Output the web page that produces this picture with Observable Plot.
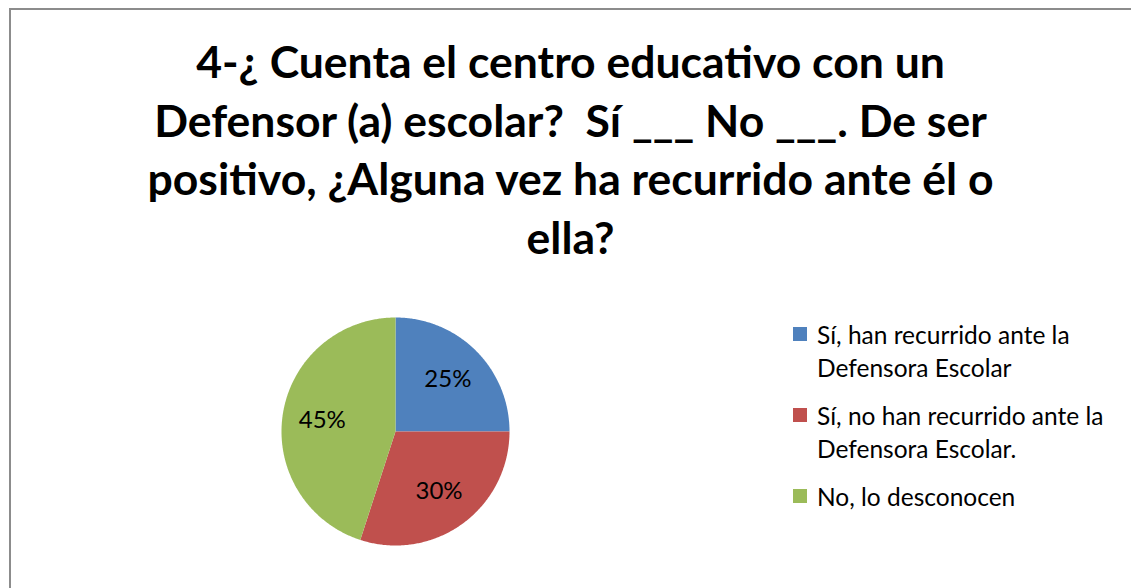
<!DOCTYPE html>
<html>
<head>
<meta charset="utf-8">
<script src="https://cdn.jsdelivr.net/npm/d3@7"></script>
<script src="https://cdn.jsdelivr.net/npm/@observablehq/plot@0.6"></script>
<style>
  html, body { margin: 0; padding: 0; background: #fff; }
  #frame { position: relative; width: 1131px; height: 588px; overflow: hidden; background: #fff; }
  #border { position: absolute; left: 9px; top: 8px; width: 1140px; height: 600px; border-left: 2px solid #8c8c8c; border-top: 2px solid #8c8c8c; box-sizing: border-box; }
  #title { position: absolute; left: 0; top: 32px; width: 1141px; text-align: center; font-family: Lato, "Open Sans", sans-serif; font-weight: bold; font-size: 44.5px; line-height: 58.5px; color: #000; white-space: pre; }
  #pie { position: absolute; left: 265px; top: 301px; }
  #legend { position: absolute; left: 793px; top: 318px; font-family: Lato, "Open Sans", sans-serif; font-size: 24.5px; color: #000; }
  .item { position: relative; padding-left: 24px; line-height: 33px; margin-bottom: 15px; white-space: nowrap; }
  .sw { position: absolute; left: 0; top: 9px; width: 14px; height: 14px; }
</style>
</head>
<body>
<div id="frame">
  <div id="border"></div>
  <div id="title"></div>
  <div id="pie"></div>
  <div id="legend"></div>
</div>
<script>
const titleLines = [
  "4-¿ Cuenta el centro educativo con un",
  "Defensor (a) escolar?  Sí ___ No ___. De ser",
  "positivo, ¿Alguna vez ha recurrido ante él o",
  "ella?"
];
const categories = [
  "Sí, han recurrido ante la Defensora Escolar",
  "Sí, no han recurrido ante la Defensora Escolar.",
  "No, lo desconocen"
];
const legendLines = [
  ["Sí, han recurrido ante la", "Defensora Escolar"],
  ["Sí, no han recurrido ante la", "Defensora Escolar."],
  ["No, lo desconocen"]
];
const values = [25, 30, 45];
const labels = ["25%", "30%", "45%"];
const colors = ["#4F81BD", "#C0504D", "#9BBB59"];

document.getElementById("title").textContent = titleLines.join("\n");

// Build slice polygons from d3.pie angles (clockwise from top)
const arcs = d3.pie().sort(null).value(d => d)(values);
const polyRows = [];
const labelRows = [];
arcs.forEach((a, i) => {
  const cat = categories[i];
  polyRows.push({cat, x: 0, y: 0, k: 0});
  const n = Math.max(2, Math.ceil((a.endAngle - a.startAngle) / 0.01));
  for (let j = 0; j <= n; j++) {
    const t = a.startAngle + (a.endAngle - a.startAngle) * j / n;
    polyRows.push({cat, x: Math.sin(t), y: Math.cos(t), k: j + 1});
  }
  const m = (a.startAngle + a.endAngle) / 2;
  labelRows.push({cat, label: labels[i], x: 0.65 * Math.sin(m), y: 0.65 * Math.cos(m)});
});

const ext = 130 / 114;
const chart = Plot.plot({
  width: 260,
  height: 260,
  margin: 0,
  x: {domain: [-ext, ext], axis: null},
  y: {domain: [-ext, ext], axis: null},
  color: {domain: categories, range: colors},
  style: {background: "transparent"},
  marks: [
    Plot.line(polyRows, {x: "x", y: "y", z: "cat", fill: "cat", stroke: "none", curve: "linear-closed"}),
    Plot.text(labelRows, {x: "x", y: "y", text: "label", fontSize: 24, fontFamily: "Lato, 'Open Sans', sans-serif", fill: "#000"})
  ]
});
document.getElementById("pie").appendChild(chart);

const leg = document.getElementById("legend");
legendLines.forEach((lines, i) => {
  const it = document.createElement("div");
  it.className = "item";
  const sw = document.createElement("div");
  sw.className = "sw";
  sw.style.background = colors[i];
  it.appendChild(sw);
  lines.forEach(l => {
    const d = document.createElement("div");
    d.textContent = l;
    it.appendChild(d);
  });
  leg.appendChild(it);
});
</script>
</body>
</html>
